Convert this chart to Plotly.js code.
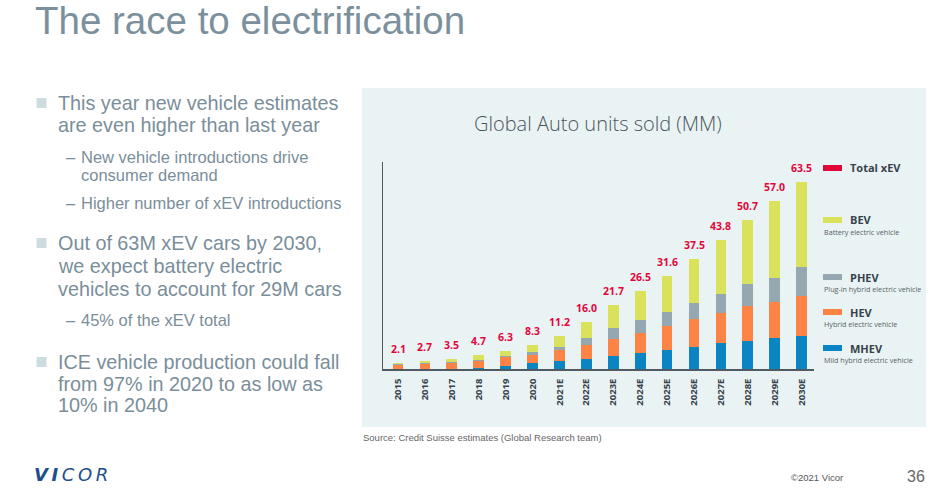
<!DOCTYPE html>
<html>
<head>
<meta charset="utf-8">
<script src="https://cdn.plot.ly/plotly-3.0.1.min.js"></script>
<style>html,body{margin:0;padding:0;background:#fff;}#chart{width:936px;height:488px;}</style>
</head>
<body>
<div id="chart"></div>
<script>
// ---- Data ----
const years = ["2015","2016","2017","2018","2019","2020","2021E","2022E","2023E","2024E","2025E","2026E","2027E","2028E","2029E","2030E"];
const mhev  = [0.0, 0.0, 0.1, 0.3, 1.2, 2.0, 2.8, 3.4, 4.5, 5.5, 6.5, 7.7, 8.8, 9.7, 10.7, 11.4];
const hev   = [1.6, 1.8, 2.0, 2.5, 2.8, 2.9, 3.6, 4.8, 5.9, 6.7, 8.2, 9.2, 10.3, 11.8, 12.2, 13.4];
const phev  = [0.2, 0.2, 0.5, 0.4, 0.6, 1.0, 1.3, 2.5, 3.6, 4.5, 4.7, 5.5, 6.3, 7.5, 8.1, 9.8];
const bev   = [0.3, 0.7, 0.9, 1.5, 1.7, 2.4, 3.5, 5.3, 7.7, 9.8, 12.2, 15.1, 18.4, 21.7, 26.0, 28.9];
const totals = [2.1, 2.7, 3.5, 4.7, 6.3, 8.3, 11.2, 16.0, 21.7, 26.5, 31.6, 37.5, 43.8, 50.7, 57.0, 63.5];
const seriesNames = ["MHEV","HEV","PHEV","BEV"];
const seriesDesc = ["Mild hybrid electric vehicle","Hybrid electric vehicle","Plug-in hybrid electric vehicle","Battery electric vehicle"];
const bullets = [
  ["This year new vehicle estimates","are even higher than last year"],
  ["Out of 63M xEV cars by 2030,","we expect battery electric","vehicles to account for 29M cars"],
  ["ICE vehicle production could fall","from 97% in 2020 to as low as","10% in 2040"]
];
const subBullets = [
  {t:"New vehicle introductions drive", dash:true},
  {t:"consumer demand", dash:false},
  {t:"Higher number of xEV introductions", dash:true},
  {t:"45% of the xEV total", dash:true}
];

// ---- Styling ----
const W = 936, H = 488;
const px = x => x / W;
const py = y => 1 - y / H;
const colors = {MHEV:"#0a84c2", HEV:"#fd8444", PHEV:"#95a8b1", BEV:"#dae15a", total:"#e0063c"};
const slate = "#7a8e9a";
const dark = "#37424c";
const CF = "Open Sans, Noto Sans, sans-serif";
const AF = "Liberation Sans, Arial, sans-serif";

const dataArr = [mhev, hev, phev, bev];
const traces = seriesNames.map((n, i) => ({
  type: "bar", name: n, x: years, y: dataArr[i], width: 0.4,
  marker: {color: colors[n], line: {width: 0}}, hoverinfo: "x+y+name"
}));

const annotations = [];
const shapes = [];

// chart panel
shapes.push({type:"rect", xref:"paper", yref:"paper", x0:px(362), x1:px(926), y0:py(427), y1:py(88),
  fillcolor:"#eaf3f3", line:{width:0}, layer:"below"});

// totals above bars (x given as category index)
years.forEach((yr, i) => {
  annotations.push({x: i, y: totals[i], xref:"x", yref:"y", text: totals[i].toFixed(1),
    showarrow:false, yanchor:"bottom", yshift: 5,
    font:{family:CF, size:10.5, color:colors.total, weight:700}});
});

// chart title
annotations.push({xref:"paper", yref:"paper", x:px(598), y:py(124), text:"Global Auto units sold (MM)",
  showarrow:false, xanchor:"center", yanchor:"middle", font:{family:CF, size:20, color:"#4a555e", weight:300}});

// legend
const legendItems = [
  {name:"Total xEV", color:colors.total, y:168, desc:null},
  {name:"BEV", color:colors.BEV, y:220, desc:seriesDesc[3]},
  {name:"PHEV", color:colors.PHEV, y:277, desc:seriesDesc[2]},
  {name:"HEV", color:colors.HEV, y:312, desc:seriesDesc[1]},
  {name:"MHEV", color:colors.MHEV, y:348, desc:seriesDesc[0]}
];
legendItems.forEach(it => {
  shapes.push({type:"rect", xref:"paper", yref:"paper", x0:px(823), x1:px(842), y0:py(it.y+3), y1:py(it.y-3),
    fillcolor:it.color, line:{width:0}});
  annotations.push({xref:"paper", yref:"paper", x:px(848), y:py(it.y), text:it.name, showarrow:false,
    xanchor:"left", yanchor:"middle", font:{family:CF, size:11, color:dark, weight:700}});
  if (it.desc) annotations.push({xref:"paper", yref:"paper", x:px(822), y:py(it.y+12), text:it.desc, showarrow:false,
    xanchor:"left", yanchor:"middle", font:{family:CF, size:7.2, color:"#555f68"}});
});

// slide title
annotations.push({xref:"paper", yref:"paper", x:px(33), y:py(20), text:"The race to electrification", showarrow:false,
  xanchor:"left", yanchor:"middle", font:{family:AF, size:38.5, color:"#7b909c"}});

// bullets
const bulletY = [103, 243, 362];
const lineGap = [22, 22.8, 21.7];
bullets.forEach((lines, b) => {
  shapes.push({type:"rect", xref:"paper", yref:"paper", x0:px(36.5), x1:px(46.5), y0:py(bulletY[b]+5), y1:py(bulletY[b]-5),
    fillcolor:"#cddcdf", line:{width:0}});
  lines.forEach((ln, k) => {
    annotations.push({xref:"paper", yref:"paper", x:px(56), y:py(bulletY[b] + k*lineGap[b]), text:ln, showarrow:false,
      xanchor:"left", yanchor:"middle", font:{family:AF, size:19.8, color:slate}});
  });
});
// sub bullets
const subY = [157, 174.5, 203, 320];
subBullets.forEach((s, k) => {
  if (s.dash) annotations.push({xref:"paper", yref:"paper", x:px(64), y:py(subY[k]), text:"–", showarrow:false,
    xanchor:"left", yanchor:"middle", font:{family:AF, size:16.5, color:slate}});
  annotations.push({xref:"paper", yref:"paper", x:px(79), y:py(subY[k]), text:s.t, showarrow:false,
    xanchor:"left", yanchor:"middle", font:{family:AF, size:16.5, color:slate}});
});

// footer
annotations.push({xref:"paper", yref:"paper", x:px(361), y:py(437), text:"Source: Credit Suisse estimates (Global Research team)",
  showarrow:false, xanchor:"left", yanchor:"middle", font:{family:AF, size:9.5, color:"#666"}});
annotations.push({xref:"paper", yref:"paper", x:px(32), y:py(474),
  text:"<b><i>V\u2009I</i></b><i>\u2009C\u2009O\u2009R</i>", showarrow:false, xanchor:"left", yanchor:"middle",
  font:{family:"DejaVu Sans, sans-serif", size:18, color:"#1f4f8a"}});
annotations.push({xref:"paper", yref:"paper", x:px(789), y:py(477), text:"©2021 Vicor",
  showarrow:false, xanchor:"left", yanchor:"middle", font:{family:AF, size:9.5, color:"#555"}});
annotations.push({xref:"paper", yref:"paper", x:px(927), y:py(476), text:"36",
  showarrow:false, xanchor:"right", yanchor:"middle", font:{family:AF, size:16, color:"#666"}});

const layout = {
  width: W, height: H,
  margin: {l:0, r:0, t:0, b:0},
  paper_bgcolor: "#ffffff", plot_bgcolor: "rgba(0,0,0,0)",
  barmode: "stack", showlegend: false,
  xaxis: {domain:[px(383), px(814)], range:[-0.56, 15.46], type:"category",
    showline:true, linecolor:"#4f5a63", linewidth:1.5, showgrid:false, zeroline:false,
    ticks:"", tickangle:-90, ticklabelstandoff:4,
    tickfont:{family:CF, size:9.5, color:dark, weight:700}, fixedrange:true},
  yaxis: {domain:[py(369.3), py(162)], range:[0, 70.2], showline:true, linecolor:"#4f5a63", linewidth:1.5,
    showgrid:false, zeroline:false, showticklabels:false, ticks:"", fixedrange:true},
  shapes: shapes, annotations: annotations
};

Plotly.newPlot("chart", traces, layout, {displayModeBar:false, staticPlot:true});
</script>
</body>
</html>
